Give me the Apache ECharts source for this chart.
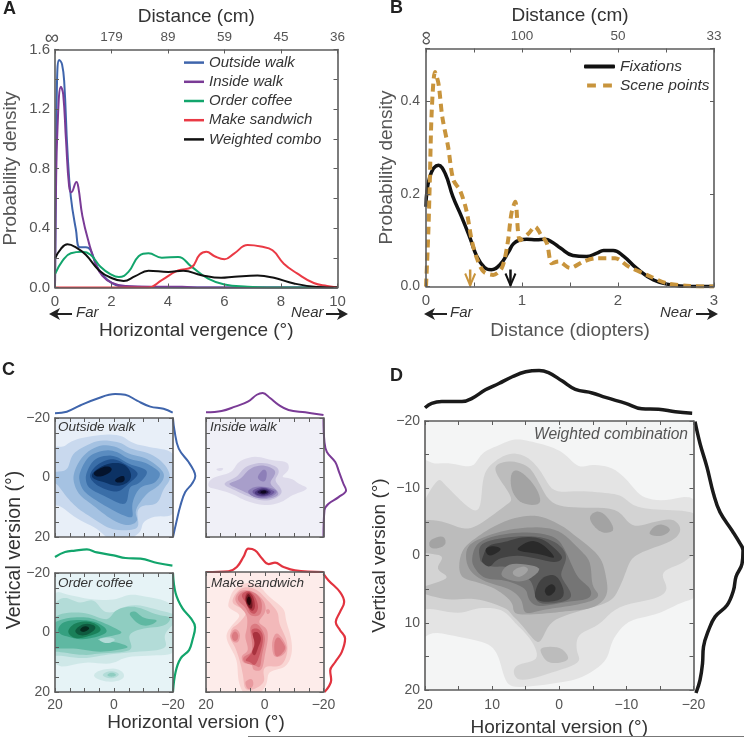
<!DOCTYPE html>
<html><head><meta charset="utf-8">
<style>html,body{margin:0;padding:0;background:#fff}#c{width:744px;height:738px}</style>
<script src="https://cdn.jsdelivr.net/npm/echarts@6/dist/echarts.min.js"></script>
</head><body><div id="c"></div>
<script>
// Panel A: [vergence deg, density]
const outsideWalk=[[0,0],[.035,.81],[.07,1.37],[.15,1.53],[.25,1.5],[.33,1.37],[.44,.92],[.56,.61],[.74,.39],[.88,.27],[1.09,.27],[1.26,.25],[1.44,.16],[1.67,.09],[2.02,.03],[2.5,.005],[5.2,0],[10,0]];
const insideWalk=[[0,0],[.03,.59],[.09,1.08],[.21,1.35],[.29,1.3],[.39,.99],[.5,.68],[.58,.64],[.76,.71],[.83,.67],[.97,.48],[1.2,.3],[1.44,.16],[1.67,.08],[2.02,.03],[2.5,.01],[3.4,.005],[4.5,.005],[5.2,0],[10,0]];
const orderCoffee=[[0,.09],[.27,.18],[.56,.23],[.97,.24],[1.26,.22],[1.61,.14],[1.96,.09],[2.26,.07],[2.6,.105],[2.96,.21],[3.31,.23],[3.78,.2],[4.36,.205],[4.83,.14],[5.42,.06],[6,.02],[6.82,.005],[7.5,0],[10,0]];
const makeSandwich=[[0,0],[3.3,0],[3.78,.05],[4.36,.115],[4.83,.135],[5.12,.22],[5.36,.24],[5.65,.21],[6,.19],[6.35,.23],[6.82,.285],[7.29,.275],[7.7,.25],[8.1,.16],[8.57,.095],[9.16,.03],[9.63,.01],[10,0]];
const weightedCombo=[[0,.195],[.21,.26],[.44,.29],[.74,.27],[1.09,.22],[1.56,.115],[1.96,.067],[2.43,.043],[2.84,.076],[3.31,.112],[4.01,.105],[4.54,.112],[5.18,.083],[5.88,.065],[6.35,.072],[7.17,.08],[7.75,.065],[8.46,.027],[9.27,.004],[10,0]];
const distanceLabelsA=['','179','89','59','45','36'];
// Panel B: [diopters, density]
const fixations=[[0,.172],[.04,.237],[.13,.262],[.2,.244],[.28,.194],[.37,.151],[.46,.104],[.53,.065],[.61,.041],[.68,.036],[.77,.047],[.86,.075],[.91,.092],[.97,.1],[1.05,.102],[1.15,.101],[1.24,.102],[1.32,.095],[1.4,.083],[1.53,.067],[1.67,.065],[1.78,.072],[1.85,.078],[1.95,.078],[2.06,.065],[2.19,.04],[2.37,.014],[2.54,.004],[2.75,0],[3,0]];
const scenePoints=[[0,0],[.024,.115],[.04,.23],[.06,.38],[.094,.463],[.13,.438],[.17,.366],[.23,.302],[.285,.23],[.354,.208],[.42,.165],[.476,.1],[.53,.061],[.6,.032],[.7,.025],[.79,.04],[.85,.093],[.89,.158],[.93,.183],[.98,.1],[1.07,.115],[1.135,.129],[1.2,.111],[1.26,.093],[1.31,.05],[1.38,.054],[1.5,.04],[1.64,.054],[1.78,.061],[1.97,.061],[2.11,.043],[2.3,.025],[2.51,.007],[2.75,.001],[3,0]];
const medianArrows=[[.46,'#c8943c'],[.88,'#111111']];
const distanceLabelsB=['','100','50','33'];
// Marginals: top [horizontal deg, rel density], right [rel density, vertical deg]
const outsideTop=[[20,.08],[16,.15],[11.5,.43],[5.8,.74],[-.4,.95],[-3.8,.92],[-7.8,.65],[-12.3,.38],[-16.8,.28],[-19.9,.11]];
const outsideRight=[[0,-19.8],[.06,-15.9],[.24,-9.7],[.65,-5.2],[.86,-2.4],[.93,-.5],[.79,2.1],[.51,4.9],[.31,9.4],[.14,15],[0,20]];
const insideTop=[[20,.12],[14.7,.18],[10.1,.38],[5.6,.62],[2.7,.92],[.7,1],[-1.8,.77],[-4.7,.46],[-8.1,.23],[-13.8,.12],[-20,0]];
const insideRight=[[0,-19.8],[.04,-11.9],[.14,-8.6],[.49,-5.2],[.65,-1.8],[.83,2.1],[.94,4.3],[.63,6.6],[.21,8.8],[.04,11],[0,20]];
const coffeeTop=[[20,.55],[16.6,.8],[13.2,.87],[9.2,.93],[5.8,.78],[.1,.63],[-3.9,.5],[-9,.47],[-14.7,.25],[-19.8,.12]];
const coffeeRight=[[0,-20],[.11,-13.2],[.39,-8.2],[.74,-4.8],[.92,-1.8],[.81,2.5],[.67,5.9],[.32,8.7],[.11,13.2],[0,20]];
const sandwichTop=[[20,0],[12.4,.03],[9.5,.21],[7.2,.64],[5.6,.97],[3.3,.9],[1,.57],[-1.3,.33],[-3.5,.39],[-6.4,.21],[-10.3,.07],[-20,0]];
const sandwichRight=[[0,-19.4],[.21,-17.2],[.69,-13.3],[.86,-10],[.69,-6.7],[.51,-3.3],[.69,-.6],[.9,2.2],[.76,6.7],[.49,10],[.28,12.8],[.32,16.1],[.21,18.3],[.04,20]];
const combinedTop=[[20,.16],[19,.26],[17.5,.3],[14.5,.3],[13,.37],[11,.56],[9,.7],[7,.85],[5,.96],[3,.99],[1.6,.94],[-.4,.76],[-2.4,.57],[-4.9,.49],[-6.9,.39],[-9.9,.26],[-12.3,.14],[-14.8,.13],[-17.3,.07],[-19.8,.04]];
const combinedRight=[[.03,-19.9],[.13,-16.7],[.27,-13.2],[.4,-9.3],[.53,-6.6],[.77,-3.9],[.93,-2],[.99,-1],[.97,1],[.85,2.9],[.8,4.9],[.67,7.1],[.43,8.8],[.3,10.8],[.2,13.2],[.18,15.7],[.13,18.1],[.05,20]];
// Density contour bands: [level, [[horizontal deg, vertical deg],...]]
const outsideBands=[
[1,[[21,-9.1],[17.2,-10.2],[13.8,-12.5],[5.8,-14.2],[-2.1,-14.2],[-6.6,-11.4],[-14.6,-9.7],[-21,-6.9],[-21,11.6],[-14.6,12.9],[-10,14.9],[-8.9,18.3],[-4.4,21],[1.3,21],[5.8,17.2],[12.6,13.8],[18.3,9.4],[21,8.2]]],
[2,[[21,-1.8],[16,-2.4],[14.3,-7.4],[10.4,-10.2],[4.7,-12.5],[-2.1,-11.7],[-5.5,-9.7],[-12.3,-8],[-17.4,-4.1],[-19.1,.4],[-16.8,3.8],[-14.6,8.8],[-10,9.4],[-7.8,11.6],[-8.3,16.6],[-4.4,17.7],[1.3,17.2],[7,13.8],[12.1,10.5],[16,6.6],[19.4,2.1],[21,1.5]]],
[3,[[13.5,-1.8],[10.4,-7.4],[4.7,-10.8],[-1,-10.2],[-4.9,-8],[-11.2,-6.3],[-16.3,-2.4],[-16.8,.4],[-14.6,3.2],[-11.2,5.4],[-7.2,11],[-8,14.6],[-4.1,16.1],[1.3,13.8],[7,9.4],[11.5,6],[13.5,2.1]]],
[4,[[11.5,-1.8],[8.7,-6.9],[3.6,-9.1],[-1,-8.6],[-4.9,-6.3],[-10,-5.2],[-14,-3],[-15.7,-1],[-13.4,2.1],[-8.9,3.2],[-6.1,8.8],[-6.4,13.3],[-3.2,12.7],[1.3,10.5],[7,7.1],[10.4,4.3],[11.7,1]]],
[5,[[9.2,-1.8],[6.4,-6.3],[.2,-7.4],[-4.9,-4.6],[-10,-3],[-11.2,-1.3],[-8.3,2.1],[-5.3,3.2],[-4.4,8.2],[-2.1,8.8],[2.4,6.6],[8.1,3.8],[9.5,1]]],
[6,[[8.1,-1.3],[5.3,-4.6],[.2,-6.3],[-4.4,-4.1],[-7.2,-2.4],[-8,-.7],[-4.9,2.1],[-1,4.9],[4.7,3.2],[7.5,1]]],
[7,[[7.2,-1.6],[2.4,-4.6],[-3.2,-4.6],[-5.8,-1.3],[-4.9,1.5],[-1,2.9],[3.6,1.5],[7,.4]]],
[8,[[7,-1.6],[3,-3.8],[.7,-3],[1.9,-1.3],[5.3,-.2]]],
[8,[[-.4,.6],[-3.2,-.7],[-3.5,1.3],[-1,1.7]]]];
const insideBands=[
[1,[[19,1.5],[16.9,-.2],[11.3,-1.8],[9,-5.2],[3.3,-7.1],[-2.4,-5.8],[-7.5,-5.2],[-8.1,-2.4],[-5.8,-.2],[-9.2,.4],[-11.5,2.1],[-14.7,3.8],[-9.2,6],[-5.8,8.2],[-.1,9.4],[6.7,7.7],[11.3,5.4],[16.9,3.8],[19,3.2]]],
[1,[[16.4,-3],[14.1,-3.2],[14.7,-2.3],[16,-2.3]]],
[2,[[14.1,2.1],[9.5,-.2],[6.7,-3.5],[1,-5],[-4.1,-3.5],[-4.7,-1.3],[-3.5,1],[-5.6,3.8],[-5.2,6],[-.7,7.9],[5,6.6],[10.1,4.3]]],
[3,[[12.4,2.1],[8.4,.6],[5,-3],[.5,-4.1],[-3.5,-2.4],[-3,-.2],[-1.8,2.1],[-4.7,4.9],[-3.5,6.6],[1,7.3],[4.4,6],[9,3.8]]],
[4,[[5.6,4.3],[2.2,2.9],[-3,3.8],[-4.1,5.1],[-1.8,6.6],[2.2,6.9],[5,5.8]]],
[4,[[2.2,-.7],[.5,-2.7],[-.7,-1.8],[-.3,1],[1,1.3],[2.2,.4]]],
[5,[[4.4,4.6],[1,3.2],[-2.6,4.3],[-3.3,5.1],[-1.3,6.2],[2.2,6.4]]],
[6,[[3.5,4.9],[.5,3.5],[-2.2,4.8],[-.7,6],[2.2,6]]],
[7,[[2.7,4.9],[.5,4],[-1.5,4.9],[.5,5.8]]],
[8,[[1.6,4.9],[.2,4.3],[-.7,4.9],[.5,5.4]]]];
const coffeeBands=[
[1,[[21,-12.1],[16,-12.7],[8.1,-11.2],[.1,-11],[-5,-12.7],[-10.1,-12.1],[-21,-8.7],[-21,5.9],[-14.7,7.6],[-4.4,8.2],[1.3,10.6],[10.3,9.9],[21,10.6]]],
[1,[[6.9,14.4],[4.7,12.7],[-.5,12.1],[-3.3,13.8],[-2.7,15.8],[1.3,16.6],[5.2,15.8]]],
[2,[[4.1,14.4],[1.3,12.9],[-1.9,14],[.7,15.5]]],
[3,[[2.4,14.3],[.7,13.4],[-.8,14.3],[.9,14.9]]],
[2,[[21,-7],[18.5,-11.2],[15.5,-11.5],[11.5,-9.9],[6.9,-11],[3.5,-7],[-.5,-7],[-2.2,-8.2],[-7.8,-9.3],[-14.7,-7.6],[-21,-5.9],[-21,-3.7],[-16.9,.8],[-17.5,5.4],[-6.7,6.5],[3.5,7.6],[10.3,8.7],[19.4,7.6],[21,7]]],
[3,[[21,-4.2],[15.5,-6.7],[8.6,-6.3],[2.4,-4.2],[-.5,-7.4],[-5,-8.7],[-9,-8.2],[-14.7,-5.9],[-19.2,-5.1],[-16.9,-2.2],[-10.1,-1.4],[-5,.8],[-6.1,5],[-3.3,6.5],[4.7,7],[10.3,7.6],[18.3,6.5],[21,5.4]]],
[4,[[-5.3,-6.5],[-7.3,-7.1],[-10.1,-4.8],[-14.7,-4.2],[-12.4,-2.5],[-9,-2.5],[-6.2,-4.8]]],
[4,[[21,-2.5],[16,-4.8],[9.2,-5.1],[4.7,-3.7],[-.5,-1.4],[-2.7,.3],[2.4,1.4],[5.8,2.5],[.1,3.1],[-5,4.8],[-1,5.9],[5.8,6.5],[12.6,5.4],[19.4,5.4],[21,4.8]]],
[2,[[5.2,2.3],[1.8,1.6],[-.5,2.5],[2.4,3.7]]],
[5,[[18.9,-1.4],[16.6,-3.7],[10.3,-4.2],[5.2,-3.1],[2.2,-.3],[6.4,1.6],[11.5,2.3],[15.5,1.4],[18.3,.5]]],
[6,[[15.5,-.8],[13.2,-3.1],[8.6,-3.7],[5.2,-2.2],[4.7,-.3],[8.6,1.2],[12.6,2],[14.9,.9]]],
[7,[[13.2,-.8],[10.3,-2.9],[6.9,-2.5],[6.4,-1.1],[9.2,.8],[12,.8]]],
[8,[[11.5,-1.1],[9.8,-2.2],[8.3,-1.4],[9.8,-.3],[11,-.3]]]];
const sandwichBands=[
[1,[[12.4,-9.4],[10.7,-13.9],[6.7,-16.3],[2.2,-15.6],[-1.5,-11.7],[-6.4,-7.8],[-7.2,-3.9],[-8.9,1.7],[-9.2,7.2],[-6.9,11.7],[-1.5,13.3],[-.7,17.2],[2.2,21],[6.7,21],[9,16.1],[9.5,9.4],[12.4,3.9],[13,.6],[10.7,-2.8],[8.4,-5.6],[11.8,-7.8]]],
[2,[[11,-10.6],[9.5,-13.3],[6.7,-15],[2.7,-14.1],[-.7,-10.8],[-4.4,-6.7],[-4.9,-2.8],[-7.5,2.8],[-7.5,7.8],[-5.2,11.4],[-.7,11.4],[.5,13.3],[.2,16.7],[3.9,19.2],[6.7,18.9],[7.3,15],[8.4,10],[10.1,5],[11.8,2.2],[11.3,-1.1],[9,-2.8],[6.1,-6.7],[10.1,-8.9]]],
[3,[[10.1,-11.1],[8.4,-13.7],[4.4,-13.7],[.5,-10.6],[-.3,-6.7],[2.2,-3.3],[-.7,-1.1],[-1,2.8],[-.1,7.2],[1,12.6],[3.9,12.6],[4.4,10.8],[7.3,10.3],[7.8,7.8],[5.6,6.1],[6.7,1.7],[6.1,-1.1],[6.1,-5.6],[9,-8.9]]],
[3,[[11.8,1.1],[10.1,-1.1],[8.4,.6],[9,3.3],[10.7,3.3]]],
[3,[[-2.6,2.8],[-4.1,.3],[-6.4,2.8],[-7.5,5.6],[-6,7.8],[-3.5,8.3],[-2.6,6.1]]],
[3,[[6.7,16.7],[4.4,15.6],[3.9,17.8],[5.6,19.2]]],
[3,[[-.4,-7.3],[-1.4,-7.6],[-1.8,-6.6],[-.9,-5.9]]],
[4,[[8.9,-12.2],[6.7,-13.7],[3.3,-13],[1,-10],[1.6,-5.6],[5,-5.6],[6.7,-8.3],[9,-10.3]]],
[4,[[5,-1.7],[2.7,-2.8],[.5,0],[-.1,2.8],[1,7.8],[1.6,11.7],[3.3,11.1],[6.7,10.3],[7.3,8.3],[4.4,6.7],[4.4,2.8]]],
[4,[[-3.3,3.3],[-4.7,1.7],[-6.4,3.9],[-7,5.6],[-5.2,7.8],[-3.5,7.8]]],
[4,[[11.2,1.1],[10.1,-.3],[9,1.1],[9.5,2.8],[10.7,2.8]]],
[5,[[8,-12.2],[5.6,-13.7],[3.3,-11.7],[2.2,-8.3],[3.3,-6.1],[5,-6.7],[6.1,-9.4]]],
[5,[[4.7,-.6],[2.2,-1.1],[.5,1.7],[1.6,7.2],[3.3,11.1],[5,10],[6.7,9.4],[4.2,6.7],[3.5,2.8]]],
[6,[[6.7,-11.7],[5.6,-13.3],[3.9,-11.7],[3.3,-8.3],[4.4,-7],[6.1,-8.9]]],
[6,[[4.2,.6],[2.4,0],[1.2,2.2],[2.2,5],[3.3,7.8],[4.4,6.7],[3.3,3.9]]],
[7,[[6.5,-11],[5.6,-12.8],[4.4,-11],[4.2,-8.3],[5,-7.8],[6.1,-9.4]]],
[8,[[6.1,-10.8],[5.4,-11.9],[4.7,-10.6],[5,-8.9],[5.8,-9.4]]]];
const combinedBands=[
[1,[[21,-12.7],[19,-13.6],[16,-13.7],[13,-13.2],[11.5,-15.2],[9,-16.4],[6.6,-17.3],[4,-16.9],[1.1,-16.1],[-.9,-15],[-2.9,-13.2],[-4.9,-13.5],[-7.9,-13],[-10.3,-11],[-12.3,-8.8],[-15.8,-8.1],[-21,-8.1],[-21,4.9],[-18.3,6.9],[-14.3,8.8],[-10.3,9.8],[-7.9,12.7],[-6.9,15.7],[-3.4,18.1],[.1,18.9],[6.1,19.6],[8,18.6],[9,15.2],[10.5,13.2],[14,12.3],[19,11.3],[21,11]]],
[2,[[21,-5.4],[18.3,-11],[17,-10.5],[13.5,-7.1],[11.8,-7.1],[11.3,-11.8],[9.6,-14],[7.1,-15.2],[4.6,-14.5],[2.6,-12.3],[.8,-9.6],[-2.9,-9.6],[-6.9,-9.3],[-9.4,-8.8],[-12.3,-6.9],[-21,-6.3],[-21,-1.7],[-18.6,1],[-15.3,2.5],[-16.1,4.9],[-14.3,6.4],[-8.9,7.6],[-5.9,10.3],[-2.9,11.8],[-2.6,14.2],[-2.9,15.9],[1.1,17.4],[5.6,18.6],[6.8,17.4],[6.1,16.2],[3.3,15.4],[4.1,12.7],[6.6,10],[8.6,8.1],[12,7.8],[15,8.6],[19.5,7.8],[21,7.4]]],
[3,[[21,-4.9],[17.5,-5.1],[14,-3.9],[11.5,-4.9],[8.1,-7.4],[7.1,-8.6],[9.3,-12],[9.3,-13.5],[7.1,-14],[4.6,-13.2],[3.1,-11],[1.1,-7.8],[-2.9,-7.1],[-8.4,-6.9],[-10.8,-4.4],[-13.8,-4.9],[-16.8,-5.4],[-18.1,-3.9],[-16.8,-2.2],[-12.8,-.7],[-10.8,.5],[-9.9,2.5],[-8.9,4.9],[-7.4,6.9],[-2.9,8.3],[1.1,9.8],[2.6,12.5],[3.6,12.7],[5.6,10.3],[7.1,8.8],[8.1,7.8],[12.5,6.4],[16,6.6],[19.5,5.9],[21,4.9],[16.5,3.4],[18.3,2],[17.3,0],[21,-.7]]],
[3,[[2.6,13.7],[-.1,13.7],[-1.4,15.2],[-.4,15.9],[1.6,15.9],[2.6,14.7]]],
[4,[[-14.8,-4.7],[-16.6,-3.9],[-15.3,-2.9],[-13.3,-3.2]]],
[4,[[7.1,-12.3],[5.8,-12.5],[3.6,-10.3],[2.8,-7.7],[5.6,-7.8],[7.1,-9.8]]],
[4,[[-4.6,-5.9],[-5.9,-6.6],[-7.4,-5.4],[-8.1,-3.7],[-6.4,-3.4],[-4.9,-4.7]]],
[4,[[19.3,-2.2],[17.3,-2.9],[17,-1.5],[19,-1]]],
[4,[[14.8,2.9],[14.5,-.7],[12,-2.9],[9.6,-4.4],[6.6,-5.6],[3.1,-5.9],[-.4,-4.4],[-2.4,-2.9],[-5.9,0],[-6.9,2.9],[-7.1,5.9],[-4.9,7.8],[-.9,8.3],[1.8,8.6],[5.6,8.8],[6.8,8.3],[7.1,6.9],[9.6,4.9],[12.5,3.9]]],
[5,[[13.5,2],[13.8,-1],[11.8,-2.5],[8.1,-3.7],[4.1,-4.2],[.1,-3.7],[-2.9,-1],[-4.6,1],[-4.9,4.4],[-5.9,5.9],[-4.4,6.9],[-.9,7.6],[2.6,8.1],[5.1,8.6],[5.6,6.6],[7.6,4.9],[11,3.9]]],
[6,[[13,.5],[12,-2],[8.1,-3.2],[4.1,-3.4],[.6,-2.7],[-.9,-.7],[-1.9,1.5],[-2.9,3.4],[-4.6,4.9],[-4.4,6.4],[-.9,6.9],[3.1,7.6],[4.6,6.4],[5.1,4.9],[8.1,3.7],[11,3.4],[12.5,2]]],
[7,[[11.8,.5],[11.8,-1.5],[9.1,-2.5],[4.1,-2.9],[.6,-2],[-1.1,0],[-.4,2.2],[-.4,3.4],[-1.9,5.9],[-.4,6.9],[3.1,7.1],[3.8,4.9],[4.6,3.4],[7.6,1.7],[10,1.7],[11.5,1]]],
[5,[[8.6,2.5],[7.1,1.2],[3.1,1.7],[3.6,2.9],[5.6,3.9],[8.1,3.4]]],
[4,[[6.8,2.2],[5.3,1.6],[4.6,2.2],[5.8,3.2],[6.8,2.9]]],
[8,[[11.3,0],[10.5,-1.5],[8.1,-2],[5.6,-2.7],[2.6,-2.5],[.1,-.5],[-.4,.5],[1.1,1],[5.6,0],[9.1,.5],[10.3,1.7],[11.5,1]]],
[8,[[3.6,5.4],[2.6,3.4],[.6,2.9],[-.6,4.9],[-.4,6.4],[1.6,6.9],[3.3,6.6]]],
[9,[[11,-1],[9.8,-1.4],[8.6,-.9],[10.4,.1]]],
[9,[[6.2,-1.1],[4.2,-2.2],[2.3,-1.5],[.6,.4],[2.8,-.2],[5.6,-.6]]],
[9,[[2.2,5.1],[1.1,4.2],[.5,5.1],[1.6,6.1]]]];
// Colour ramps (index 0 = panel background)
const blues=['#e8eff8','#c9d9ee','#a5c2e2','#7fa8d2','#5a8cc0','#3a6ea8','#20508c','#0c3264','#04132c'];
const purples=['#f0f0f7','#dedbeb','#c6c0dd','#a89eca','#8d7fb8','#6e5a9e','#4d3a80','#2a1a50','#0d0520'];
const greens=['#e6f3f6','#cfe8e8','#b3dcd8','#8fcdc1','#5fb8a2','#35a080','#1a8059','#0f5a3f','#062c1f'];
const reds=['#fdecea','#f9d5d3','#f3b9ba','#e8999e','#db7a81','#c95560','#a8323e','#6f1720','#2a0508'];
const grays=['#f4f5f5','#e4e4e4','#d3d3d3','#bcbcbc','#a3a3a3','#8c8c8c','#757575','#5c5c5c','#424242','#2a2a2a'];
const versionLabelsSmall=[-20,0,20];
const versionLabelsLarge=[-20,-10,0,10,20];

const INK='#555',BOX='#5c5c5c',FAMILY='Liberation Sans';
const grid=[],xAxis=[],yAxis=[],series=[];
const minus=v=>String(v).replace('-','−');
const tick=()=>({show:true,inside:true,length:4,lineStyle:{color:BOX,width:1}});
const line={show:true,onZero:false,lineStyle:{color:BOX,width:1.6}};
function addGrid(box,xs,ys){
  const g=grid.length;
  grid.push({left:box[0],top:box[1],width:box[2],height:box[3],show:!!box[4],backgroundColor:box[4]||'transparent',borderWidth:0});
  const xi=xAxis.length,yi=yAxis.length;
  xs.forEach(a=>xAxis.push(Object.assign({gridIndex:g,splitLine:{show:false},z:5},a)));
  ys.forEach(a=>yAxis.push(Object.assign({gridIndex:g,splitLine:{show:false},z:5},a)));
  return [xi,yi];
}
const lab=(fn,size,margin)=>({show:true,color:INK,fontSize:size||14,margin:margin||5,formatter:fn,fontFamily:FAMILY,showMinLabel:true,showMaxLabel:true});
const named=(o,color,size)=>Object.assign({nameLocation:'middle',nameTextStyle:{fontSize:size||19,color:color||'#333',fontFamily:FAMILY}},o);

// Closed Catmull-Rom outline through the band's points, lightly rounded, in pixel space
function outline(pts){
  const n=pts.length,fine=[];
  for(let i=0;i<n;i++){
    const a=pts[(i-1+n)%n],b=pts[i],c=pts[(i+1)%n],d=pts[(i+2)%n];
    for(let k=0;k<6;k++){
      const t=k/6,t2=t*t,t3=t2*t;
      fine.push([0,1].map(j=>.5*(2*b[j]+(c[j]-a[j])*t+(2*a[j]-5*b[j]+4*c[j]-d[j])*t2+(3*b[j]-a[j]-3*c[j]+d[j])*t3)));
    }
  }
  const m=fine.length;
  return fine.map((_,i)=>[0,1].map(j=>{let s=0;for(let w=-2;w<=2;w++)s+=fine[(i+w+m)%m][j];return s/5;}));
}

// Panel A
const aId=addGrid([52.5,49.5,285,238],[
 named({type:'value',position:'bottom',min:0,max:10,interval:2,axisLine:line,axisTick:tick(),axisLabel:lab(v=>String(v),15,7),name:'Horizontal vergence (°)',nameGap:34}),
 named({type:'value',position:'top',min:0,max:10,interval:2,axisLine:line,axisTick:tick(),axisLabel:lab(v=>distanceLabelsA[v/2],13.5,5),name:'Distance (cm)',nameGap:23})
],[
 named({type:'value',position:'left',min:0,max:1.6,interval:.2,axisLine:line,axisTick:tick(),axisLabel:lab(v=>Math.round(v*10)%4===0?v.toFixed(1):'',15,5),name:'Probability density',nameGap:35},INK),
 {type:'value',position:'right',min:0,max:1.6,interval:.2,axisLine:line,axisTick:tick(),axisLabel:{show:false}}
]);
[['Outside walk',outsideWalk,'#3f65ac'],['Inside walk',insideWalk,'#7a3b96'],['Order coffee',orderCoffee,'#12a56c'],['Make sandwich',makeSandwich,'#ea3a45'],['Weighted combo',weightedCombo,'#111111']].forEach(s=>{
 series.push({type:'line',name:s[0],xAxisIndex:aId[0],yAxisIndex:aId[1],data:s[1],symbol:'none',smooth:.45,lineStyle:{color:s[2],width:2},itemStyle:{color:s[2]},clip:true,z:3});
});

// Panel B
const bId=addGrid([426,48.5,288,238],[
 named({type:'value',position:'bottom',min:0,max:3,interval:.5,axisLine:line,axisTick:tick(),axisLabel:lab(v=>Number.isInteger(v)?String(v):'',15,7),name:'Distance (diopters)',nameGap:35},INK),
 named({type:'value',position:'top',min:0,max:3,interval:.5,axisLine:line,axisTick:tick(),axisLabel:lab(v=>Number.isInteger(v)?distanceLabelsB[v]:'',13.5,5),name:'Distance (cm)',nameGap:23})
],[
 named({type:'value',position:'left',min:0,max:.514,interval:.2,axisLine:line,axisTick:tick(),axisLabel:lab(v=>v>.5?'':v.toFixed(1),14,6),name:'Probability density',nameGap:29},INK),
 {type:'value',position:'right',min:0,max:.514,interval:.2,axisLine:line,axisTick:tick(),axisLabel:{show:false}}
]);
series.push({type:'line',name:'Fixations',xAxisIndex:bId[0],yAxisIndex:bId[1],data:fixations,symbol:'none',smooth:.45,lineStyle:{color:'#111',width:3.5},itemStyle:{color:'#111'},z:3});
series.push({type:'line',name:'Scene points',xAxisIndex:bId[0],yAxisIndex:bId[1],data:scenePoints,symbol:'none',smooth:.3,lineStyle:{color:'#c8943c',width:4,type:[8,5]},itemStyle:{color:'#c8943c'},z:4});
series.push({type:'custom',xAxisIndex:bId[0],yAxisIndex:bId[1],data:medianArrows.map(a=>[a[0],0]),silent:true,z:5,
 renderItem:(p,api)=>{const c=api.coord([api.value(0),0]);const col=medianArrows[p.dataIndex][1];
  return {type:'group',children:[
   {type:'line',shape:{x1:c[0],y1:c[1]-17,x2:c[0],y2:c[1]-1},style:{stroke:col,lineWidth:2.5}},
   {type:'polyline',shape:{points:[[c[0]-5,c[1]-13],[c[0],c[1]-1],[c[0]+5,c[1]-13]]},style:{stroke:col,lineWidth:2,fill:null}}]};}});

// Density panels
function densityPanel(box,topBox,rightBox,bands,ramp,topData,rightData,color,width,xLabels,yLabels,xName,yName,labelGap){
 const ids=addGrid([...box,ramp[0]],[
  Object.assign({type:'value',position:'bottom',inverse:true,min:-20,max:20,interval:5,axisLine:line,axisTick:tick(),axisLabel:xLabels?lab(v=>xLabels.includes(v)?minus(v):'',14,labelGap):{show:false}},xName?named({name:xName,nameGap:28}):{}),
  {type:'value',position:'top',inverse:true,min:-20,max:20,interval:5,axisLine:line,axisTick:tick(),axisLabel:{show:false}}
 ],[
  Object.assign({type:'value',position:'left',inverse:true,min:-20,max:20,interval:5,axisLine:line,axisTick:tick(),axisLabel:yLabels?lab(v=>yLabels.includes(v)?minus(v):'',14,5):{show:false}},yName?named({name:yName,nameGap:36}):{}),
  {type:'value',position:'right',inverse:true,min:-20,max:20,interval:5,axisLine:line,axisTick:tick(),axisLabel:{show:false}}
 ]);
 series.push({type:'custom',xAxisIndex:ids[0],yAxisIndex:ids[1],clip:true,silent:true,z:2,
  data:bands.map(b=>b[1][0]),
  renderItem:(p,api)=>{const b=bands[p.dataIndex];
   return {type:'polygon',shape:{points:outline(b[1].map(q=>api.coord(q)))},style:{fill:ramp[b[0]]}};}});
 const t=addGrid(topBox,[{type:'value',inverse:true,min:-20,max:20,show:false}],[{type:'value',min:0,max:1,show:false}]);
 series.push({type:'line',xAxisIndex:t[0],yAxisIndex:t[1],data:topData,symbol:'none',smooth:.4,clip:false,lineStyle:{color,width},z:3});
 const r=addGrid(rightBox,[{type:'value',min:0,max:1,show:false}],[{type:'value',inverse:true,min:-20,max:20,show:false}]);
 series.push({type:'line',xAxisIndex:r[0],yAxisIndex:r[1],data:rightData,symbol:'none',smooth:.4,clip:false,lineStyle:{color,width},z:3});
}
densityPanel([55,418,118,119],[55,393,118,22],[173,418,24,119],outsideBands,blues,outsideTop,outsideRight,'#3f65ac',2,null,versionLabelsSmall);
densityPanel([206,418,117.5,119],[206,393,117.5,22],[323.5,418,24,119],insideBands,purples,insideTop,insideRight,'#7a3b96',2,null,null);
densityPanel([55,573,118,119],[55,548,118,20],[173,573,24,119],coffeeBands,greens,coffeeTop,coffeeRight,'#12a56c',2.2,versionLabelsSmall,versionLabelsSmall,null,null,6);
densityPanel([206,572,117.5,120],[206,548,117.5,24],[323.5,572,24,120],sandwichBands,reds,sandwichTop,sandwichRight,'#e2333f',2.2,versionLabelsSmall,null,null,null,6);
densityPanel([425,421,268.5,272],[425,370,268.5,45],[693.5,421,50,272],combinedBands,grays,combinedTop,combinedRight,'#1a1a1a',3.5,versionLabelsLarge,versionLabelsLarge,'Horizontal version (°)','Vertical version (°)',8);

// Annotations
const txt=(text,x,y,o={})=>({type:'text',silent:true,x,y,z:20,style:{text,fill:o.color||'#333',font:`${o.style||'normal'} ${o.weight||'normal'} ${o.size||14}px "Liberation Sans"`,textAlign:o.align||'left',textVerticalAlign:'middle'}});
const vtxt=(text,x,y,size,color)=>({type:'text',silent:true,x,y,rotation:Math.PI/2,z:20,style:{text,fill:color,font:`${size}px "Liberation Sans"`,textAlign:'center',textVerticalAlign:'middle'}});
const arrow=(x0,x1,y)=>{const d=x1>x0?-1:1;return [
 {type:'line',silent:true,z:20,shape:{x1:x0,y1:y,x2:x1+d*6,y2:y},style:{stroke:'#222',lineWidth:2}},
 {type:'polygon',silent:true,z:20,shape:{points:[[x1,y],[x1+d*11,y-6],[x1+d*8,y],[x1+d*11,y+6]]},style:{fill:'#222'}}];};
const letter={weight:'bold',size:18,color:'#222'};
const graphic=[
 txt('A',3,9,letter),txt('B',390,8,letter),txt('C',2,370,letter),txt('D',390,376,letter),
 txt('Far',76,313,{style:'italic',size:15}),txt('Near',291,313,{style:'italic',size:15}),
 txt('Far',450,313,{style:'italic',size:15}),txt('Near',660,313,{style:'italic',size:15}),
 ...arrow(72,49,314),...arrow(326,348,314),...arrow(447,424,314),...arrow(696,718,314),
 txt('∞',52,38,{size:20,align:'center',color:INK}),
 vtxt('∞',426,38,20,INK),
 txt('Outside walk',58,427,{style:'italic',size:13.5}),txt('Inside walk',210,427,{style:'italic',size:13.5}),
 txt('Order coffee',58,583,{style:'italic',size:13.5}),txt('Make sandwich',211,583,{style:'italic',size:13.5}),
 txt('Weighted combination',534,435,{style:'italic',size:15.6,color:'#555'}),
 vtxt('Vertical version (°)',15,550,19.5,'#333'),
 txt('Horizontal version (°)',196,723,{size:19,align:'center'}),
 {type:'line',silent:true,z:20,shape:{x1:248,y1:736.5,x2:744,y2:736.5},style:{stroke:'#777',lineWidth:1}}
];
const legendText={fontStyle:'italic',color:'#333',fontFamily:FAMILY};
const option={animation:false,grid,xAxis,yAxis,series,graphic,
 legend:[
  {orient:'vertical',left:184,top:53,itemWidth:20,itemHeight:2.5,itemGap:0,itemStyle:{borderWidth:0},padding:0,selectedMode:false,icon:'rect',
   textStyle:Object.assign({fontSize:15,lineHeight:19.2},legendText),data:['Outside walk','Inside walk','Order coffee','Make sandwich','Weighted combo']},
  {orient:'vertical',left:584,top:57,itemWidth:31,itemHeight:4,itemGap:0,itemStyle:{borderWidth:0},padding:0,selectedMode:false,
   textStyle:Object.assign({fontSize:15.5,lineHeight:19},legendText),
   data:[{name:'Fixations',icon:'roundRect'},{name:'Scene points',icon:'path://M0 0H11V5H0Z M20 0H31V5H20Z'}]}
 ]};
echarts.init(document.getElementById('c'),null,{renderer:'canvas'}).setOption(option);
</script></body></html>
